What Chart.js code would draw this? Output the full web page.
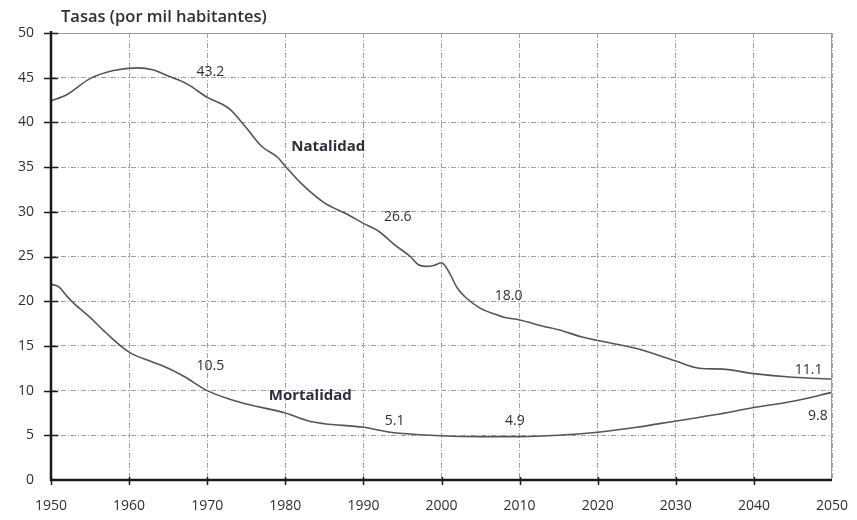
<!DOCTYPE html>
<html>
<head>
<meta charset="utf-8">
<script src="https://cdn.jsdelivr.net/npm/chart.js@4.4.0/dist/chart.umd.min.js"></script>
<style>
    html, body { margin: 0; padding: 0; background: #fff; }
    #wrap { width: 857px; height: 520px; }
</style>
</head>
<body>
<div id="wrap"><canvas id="tasas"></canvas></div>
<script>
// Tasas de natalidad y mortalidad (por mil habitantes), 1950-2050
var natYears = [1950, 1952, 1955, 1958, 1961, 1963, 1965, 1967, 1968, 1970, 1972, 1973, 1975, 1977, 1979, 1980,
                1982, 1985, 1988, 1990, 1992, 1994, 1996, 1997, 1998, 1999, 2000, 2001, 2002, 2003, 2005, 2007,
                2008, 2010, 2013, 2015, 2018, 2020, 2025, 2030, 2033, 2036, 2040, 2045, 2050];
var natValues = [42.4, 43.1, 44.9, 45.8, 46.1, 45.9, 45.2, 44.5, 44.0, 42.8, 42.0, 41.4, 39.4, 37.3, 36.1, 35.1,
                 33.2, 31.0, 29.7, 28.7, 27.8, 26.3, 25.0, 24.1, 23.9, 24.0, 24.3, 23.2, 21.5, 20.5, 19.2, 18.5,
                 18.2, 17.9, 17.2, 16.8, 16.0, 15.6, 14.7, 13.3, 12.5, 12.4, 11.9, 11.5, 11.3];

var morYears = [1950, 1951, 1952, 1953, 1955, 1957, 1960, 1963, 1965, 1967, 1970, 1973, 1975, 1980, 1983, 1985,
                1990, 1993, 1995, 2000, 2005, 2010, 2015, 2020, 2025, 2030, 2035, 2040, 2045, 2050];
var morValues = [21.9, 21.6, 20.6, 19.7, 18.2, 16.5, 14.3, 13.2, 12.5, 11.6, 10.0, 9.0, 8.5, 7.5, 6.6, 6.3,
                 5.9, 5.4, 5.2, 4.95, 4.85, 4.85, 5.0, 5.35, 5.9, 6.6, 7.3, 8.1, 8.8, 9.8];

var xTicks = [1950, 1960, 1970, 1980, 1990, 2000, 2010, 2020, 2030, 2040, 2050];
var yTicks = [0, 5, 10, 15, 20, 25, 30, 35, 40, 45, 50];

// etiquetas de valores sobre las curvas
var valueTexts = ['43.2', '26.6', '18.0', '11.1', '10.5', '5.1', '4.9', '9.8'];
var valueYears = [1970.4, 1994.4, 2008.6, 2047.0, 1970.4, 1994.0, 2009.4, 2048.2];
var valueLevels = [45.6, 29.4, 20.6, 12.3, 12.75, 6.6, 6.6, 7.2];

var seriesNames = ['Natalidad', 'Mortalidad'];
var nameYears = [1985.5, 1983.2];
var nameLevels = [37.25, 9.4];

var textColor = '#2e2e3c';
var fontFam = '"Open Sans", "Noto Sans", sans-serif';

function toPoints(xs, ys)
{
    var pts = [];
    for (var i = 0; i < xs.length; i++) {
        pts.push({ x: xs[i], y: ys[i] });
    }
    return pts;
}

var annotations = {
    id: 'annotations',
    afterDraw: function (chart)
    {
        var ctx = chart.ctx;
        var xs = chart.scales.x, ys = chart.scales.y;
        var area = chart.chartArea;
        ctx.save();

        // marco gris arriba y a la derecha
        ctx.strokeStyle = '#9a9a9a';
        ctx.lineWidth = 1;
        ctx.beginPath();
        ctx.moveTo(area.left, area.top + 0.5);
        ctx.lineTo(area.right - 0.5, area.top + 0.5);
        ctx.lineTo(area.right - 0.5, area.bottom);
        ctx.stroke();

        // ejes negros con marcas que cruzan
        ctx.strokeStyle = '#1a1a1a';
        ctx.lineWidth = 2.5;
        ctx.beginPath();
        ctx.moveTo(area.left, area.top - 2);
        ctx.lineTo(area.left, area.bottom);
        ctx.lineTo(area.right, area.bottom);
        ctx.stroke();
        ctx.lineWidth = 1.5;
        ctx.beginPath();
        yTicks.forEach(function (v) {
            if (v === 0) return;
            var py = Math.round(ys.getPixelForValue(v)) + 0.5;
            ctx.moveTo(area.left - 7, py);
            ctx.lineTo(area.left + 7, py);
        });
        xTicks.forEach(function (v) {
            if (v === 2050) return;
            var px = Math.round(xs.getPixelForValue(v)) + 0.5;
            ctx.moveTo(px, area.bottom - 3);
            ctx.lineTo(px, area.bottom + 5);
        });
        ctx.stroke();

        ctx.fillStyle = textColor;
        ctx.textAlign = 'center';
        ctx.textBaseline = 'middle';

        ctx.font = '14px ' + fontFam;
        for (var i = 0; i < valueTexts.length; i++) {
            ctx.fillText(valueTexts[i], xs.getPixelForValue(valueYears[i]), ys.getPixelForValue(valueLevels[i]));
        }

        ctx.font = 'bold 15px ' + fontFam;
        for (var j = 0; j < seriesNames.length; j++) {
            ctx.fillText(seriesNames[j], xs.getPixelForValue(nameYears[j]), ys.getPixelForValue(nameLevels[j]));
        }

        ctx.font = '600 16.5px ' + fontFam;
        ctx.textAlign = 'left';
        ctx.fillText('Tasas (por mil habitantes)', area.left + 10, 17);
        ctx.restore();
    }
};

var lineStyle = {
    borderColor: '#555555',
    borderWidth: 1.6,
    pointRadius: 0,
    fill: false,
    cubicInterpolationMode: 'monotone'
};

new Chart(document.getElementById('tasas'), {
    type: 'line',
    data: {
        datasets: [
            Object.assign({ label: 'Natalidad', data: toPoints(natYears, natValues) }, lineStyle),
            Object.assign({ label: 'Mortalidad', data: toPoints(morYears, morValues) }, lineStyle)
        ]
    },
    options: {
        responsive: true,
        maintainAspectRatio: false,
        animation: false,
        layout: { padding: { top: 33, right: 0, left: 0, bottom: 0 } },
        plugins: {
            legend: { display: false },
            tooltip: { enabled: false }
        },
        scales: {
            x: {
                type: 'linear',
                min: 1950,
                max: 2050,
                afterBuildTicks: function (s) { s.ticks = xTicks.map(function (v) { return { value: v }; }); },
                afterFit: function (s) { s.height = 40; s.paddingLeft = 0; s.paddingRight = 25; },
                ticks: {
                    color: textColor,
                    font: { family: fontFam, size: 14 },
                    padding: 18,
                    maxRotation: 0,
                    callback: function (v) { return String(v); }
                },
                grid: {
                    color: '#a0a0a0',
                    lineWidth: 1,
                    drawTicks: false
                },
                border: { display: false, dash: [5, 2, 1, 2] }
            },
            y: {
                min: 0,
                max: 50,
                afterBuildTicks: function (s) { s.ticks = yTicks.map(function (v) { return { value: v }; }); },
                afterFit: function (s) { s.width = 51; },
                ticks: {
                    color: textColor,
                    font: { family: fontFam, size: 14 },
                    padding: 17
                },
                grid: {
                    color: '#a0a0a0',
                    lineWidth: 1,
                    drawTicks: false
                },
                border: { display: false, dash: [5, 2, 1, 2] }
            }
        }
    },
    plugins: [annotations]
});
</script>
</body>
</html>
